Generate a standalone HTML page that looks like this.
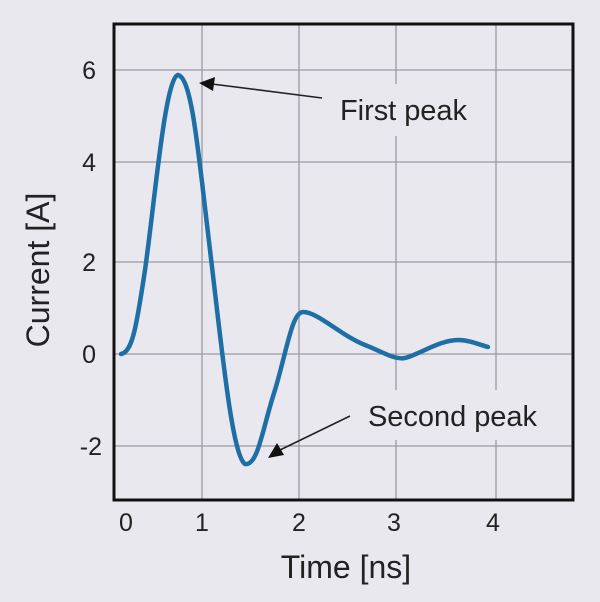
<!DOCTYPE html>
<html><head><style>
html,body{margin:0;padding:0;background:#e9e7ee;}
svg{display:block}
text{font-family:"Liberation Sans",sans-serif;fill:#222}
</style></head><body>
<svg width="600" height="602" viewBox="0 0 600 602">
<rect width="600" height="602" fill="#eae8ef"/>
<g stroke="#9a99a0" stroke-width="1.3">
<line x1="202" y1="24" x2="202" y2="500"/>
<line x1="299" y1="24" x2="299" y2="500"/>
<line x1="396" y1="24" x2="396" y2="84"/>
<line x1="396" y1="136" x2="396" y2="390"/>
<line x1="396" y1="440" x2="396" y2="500"/>
<line x1="496" y1="24" x2="496" y2="390"/>
<line x1="496" y1="440" x2="496" y2="500"/>
<line x1="114" y1="70" x2="573" y2="70"/>
<line x1="114" y1="162" x2="573" y2="162"/>
<line x1="114" y1="262" x2="573" y2="262"/>
<line x1="114" y1="354" x2="573" y2="354"/>
<line x1="114" y1="446" x2="573" y2="446"/>
</g>
<rect x="114" y="24" width="459" height="476" fill="none" stroke="#111" stroke-width="3"/>
<path d="M121,354 C132,352 136,330 145,270 C155,200 165,78 178,75 C192,78 198,150 210,250 C222,350 232,455 245,464 C258,466 262,430 275,390 C287,350 292,312 303,312 C318,312 340,335 365,345 C385,353 395,360 405,358 C420,354 440,340 458,340 C470,340 480,345 488,347" fill="none" stroke="#1e6fa6" stroke-width="4.5" stroke-linecap="round"/>
<line x1="322" y1="98" x2="212" y2="84" stroke="#222" stroke-width="1.6"/>
<polygon points="199,83 215,77 213,91" fill="#111"/>
<line x1="350" y1="416" x2="280" y2="450" stroke="#222" stroke-width="1.6"/>
<polygon points="268,458 277,443 284,455" fill="#111"/>
<text x="340" y="120" font-size="29" textLength="127">First peak</text>
<text x="368" y="426" font-size="29" textLength="169">Second peak</text>
<g font-size="25" text-anchor="middle">
<text x="126" y="531">0</text>
<text x="202" y="531">1</text>
<text x="299" y="531">2</text>
<text x="394" y="531">3</text>
<text x="493" y="531">4</text>
</g>
<g font-size="25" text-anchor="end">
<text x="96" y="79">6</text>
<text x="96" y="171">4</text>
<text x="96" y="271">2</text>
<text x="96" y="363">0</text>
<text x="102" y="455">-2</text>
</g>
<text x="346" y="578" font-size="32" text-anchor="middle">Time [ns]</text>
<text transform="translate(49,270) rotate(-90)" font-size="32" text-anchor="middle">Current [A]</text>
</svg>
</body></html>
